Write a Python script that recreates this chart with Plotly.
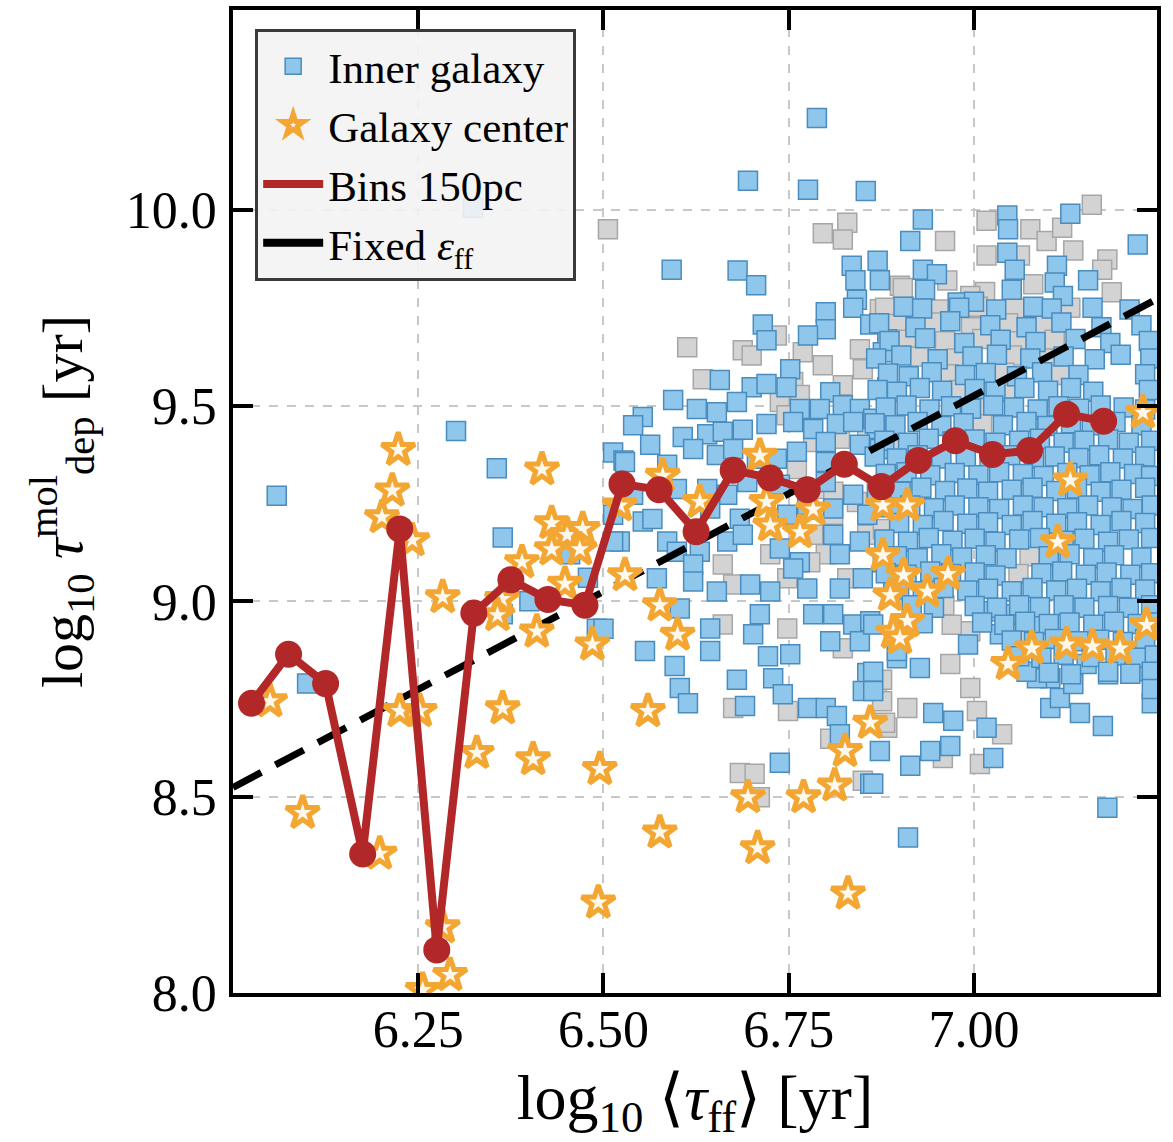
import plotly.graph_objects as go

# ---------------- data ----------------
inner_pts = [
    # sparse / left
    (6.059, 9.27), (6.301, 9.435), (6.324, 10.005), (6.356, 9.34), (6.364, 9.163), (6.10, 8.79),
    (6.455, 9.12), (6.479, 9.06), (6.491, 8.93), (6.364, 8.967), (6.40, 9.0), (6.513, 9.38),
    (6.527, 9.36), (6.522, 9.153),
    # upper
    (6.788, 10.234), (6.695, 10.074), (6.776, 10.051), (6.854, 10.048), (6.592, 9.847), (6.681, 9.845),
    (6.706, 9.807), (6.835, 9.857), (6.87, 9.87), (6.84, 9.82), (6.873, 9.82), (6.842, 9.77),
    (6.931, 9.975), (6.914, 9.92), (6.931, 9.847), (6.95, 9.835), (6.934, 9.796), (6.978, 9.763),
    (7.045, 9.985), (7.046, 9.95), (7.045, 9.89), (7.055, 9.847), (7.051, 9.796), (7.112, 9.857),
    (7.109, 9.814), (7.12, 9.78), (7.13, 9.99), (7.154, 9.82), (7.221, 9.911), (7.0, 9.765),
    # middle band
    (6.80, 9.738), (6.837, 9.75), (6.86, 9.707), (6.80, 9.695), (6.715, 9.707), (6.72, 9.667),
    (6.776, 9.679), (6.883, 9.669), (6.877, 9.636), (6.752, 9.593), (6.657, 9.565), (6.70, 9.547),
    (6.72, 9.555), (6.747, 9.547), (6.806, 9.534), (6.883, 9.547), (6.594, 9.514), (6.626, 9.491),
    (6.653, 9.483), (6.68, 9.509), (6.553, 9.471), (6.54, 9.45), (6.765, 9.491), (6.792, 9.491),
    (6.823, 9.501), (6.846, 9.491), (6.864, 9.466), (6.607, 9.42), (6.64, 9.427), (6.661, 9.433),
    (6.688, 9.438), (6.72, 9.453), (6.756, 9.458), (6.783, 9.44), (6.815, 9.453), (6.837, 9.458),
    (6.869, 9.44), (6.529, 9.356), (6.563, 9.40), (6.586, 9.349), (6.621, 9.389), (6.653, 9.374),
    (6.675, 9.389), (6.707, 9.364), (6.734, 9.364), (6.761, 9.382), (6.80, 9.407), (6.80, 9.356),
    (6.846, 9.40), (6.873, 9.389), (6.54, 9.272), (6.599, 9.287), (6.64, 9.287), (6.667, 9.272),
    (6.694, 9.305), (6.738, 9.298), (6.80, 9.305), (6.837, 9.272), (6.513, 9.221), (6.553, 9.204),
    (6.566, 9.21), (6.644, 9.237), (6.684, 9.211), (6.748, 9.221), (6.775, 9.247), (6.81, 9.237),
    (6.856, 9.221), (6.513, 9.153), (6.586, 9.153), (6.599, 9.127), (6.63, 9.127), (6.667, 9.153),
    (6.688, 9.17), (6.738, 9.135), (6.765, 9.10), (6.81, 9.17), (6.819, 9.12), (6.846, 9.153),
    (6.877, 9.10), (6.572, 9.059), (6.621, 9.094), (6.621, 9.051), (6.653, 9.025), (6.698, 9.043),
    (6.725, 9.025), (6.756, 9.084), (6.775, 9.033), (6.819, 9.033), (6.85, 9.059), (6.891, 9.033),
    # lower
    (6.603, 8.982), (6.644, 8.931), (6.644, 8.873), (6.556, 8.873), (6.596, 8.835), (6.603, 8.779),
    (6.614, 8.74), (6.702, 8.916), (6.711, 8.967), (6.68, 8.80), (6.691, 8.733), (6.722, 8.86),
    (6.729, 8.804), (6.742, 8.763), (6.752, 8.865), (6.776, 8.728), (6.80, 8.728), (6.815, 8.707),
    (6.819, 8.661), (6.783, 8.967), (6.81, 8.967), (6.837, 8.941), (6.806, 8.898), (6.846, 8.898),
    (6.86, 8.949), (6.856, 8.817), (6.85, 8.771), (6.873, 8.618), (6.86, 8.534), (6.738, 8.588),
    (6.896, 8.855), (6.911, 8.397), (6.50, 8.93), (6.864, 8.941), (6.896, 8.873), (6.927, 8.83),
    (6.864, 8.82), (6.864, 8.771), (6.945, 8.715), (6.972, 8.695), (6.941, 8.618), (6.968, 8.631),
    (6.914, 8.58), (6.864, 8.534), (7.017, 8.677), (7.026, 8.60), (6.992, 8.89), (7.022, 8.975),
    (7.049, 8.967), (7.035, 8.916), (7.085, 8.941), (7.103, 8.804), (7.103, 8.728), (7.116, 8.753),
    (7.134, 8.789), (7.143, 8.715), (7.174, 8.682), (7.085, 8.804), (7.071, 8.82), (7.152, 8.84),
    (7.181, 8.814), (7.215, 8.822), (7.18, 8.473), (7.24, 8.74),
    # dense cloud
    (6.905, 9.752), (6.93, 9.748), (6.98, 9.75), (7.03, 9.745), (7.08, 9.752), (7.105, 9.748), (7.16, 9.75), (7.21, 9.745),
    (6.872, 9.71), (6.921, 9.70), (6.968, 9.715), (7.022, 9.705), (7.071, 9.70), (7.118, 9.712), (7.172, 9.70), (7.226, 9.705),
    (6.886, 9.665), (6.934, 9.672), (6.987, 9.66), (7.036, 9.668), (7.083, 9.662), (7.137, 9.67), (7.184, 9.66), (7.236, 9.665),
    (6.868, 9.62), (6.902, 9.628), (6.951, 9.618), (6.998, 9.625), (7.031, 9.63), (7.076, 9.62), (7.121, 9.625), (7.163, 9.618), (7.198, 9.63), (7.238, 9.62),
    (6.884, 9.582), (6.912, 9.575), (6.943, 9.585), (6.988, 9.578), (7.016, 9.583), (7.058, 9.575), (7.092, 9.585), (7.141, 9.578), (7.231, 9.58),
    (6.87, 9.54), (6.896, 9.535), (6.927, 9.545), (6.957, 9.538), (7.001, 9.542), (7.029, 9.535), (7.068, 9.545), (7.10, 9.538), (7.131, 9.545), (7.161, 9.535), (7.236, 9.54),
    (6.881, 9.495), (6.909, 9.50), (6.94, 9.49), (6.969, 9.498), (6.996, 9.492), (7.026, 9.50), (7.054, 9.495), (7.086, 9.49), (7.114, 9.498), (7.142, 9.492), (7.171, 9.50), (7.202, 9.495), (7.231, 9.49),
    (6.866, 9.455), (6.894, 9.45), (6.924, 9.458), (6.956, 9.448), (6.986, 9.455), (7.039, 9.45), (7.071, 9.458), (7.099, 9.448), (7.131, 9.455), (7.159, 9.45), (7.191, 9.458), (7.226, 9.45),
    (6.879, 9.41), (6.911, 9.405), (6.939, 9.415), (6.971, 9.408), (7.001, 9.413), (7.029, 9.405), (7.061, 9.41), (7.089, 9.415), (7.121, 9.405), (7.149, 9.41), (7.181, 9.413), (7.209, 9.405), (7.239, 9.41),
    (6.866, 9.37), (6.896, 9.365), (6.924, 9.373), (6.956, 9.365), (6.989, 9.37), (7.021, 9.366), (7.049, 9.373), (7.081, 9.365), (7.109, 9.37), (7.141, 9.366), (7.169, 9.373), (7.201, 9.365), (7.231, 9.37),
    (6.881, 9.325), (6.909, 9.33), (6.941, 9.322), (6.974, 9.328), (7.006, 9.322), (7.034, 9.33), (7.066, 9.325), (7.094, 9.32), (7.126, 9.328), (7.156, 9.322), (7.184, 9.33), (7.216, 9.325), (7.239, 9.32),
    (6.869, 9.285), (6.901, 9.28), (6.929, 9.29), (6.961, 9.282), (6.991, 9.288), (7.019, 9.28), (7.051, 9.285), (7.079, 9.29), (7.111, 9.282), (7.139, 9.288), (7.171, 9.28), (7.199, 9.285), (7.231, 9.29),
    (6.886, 9.24), (6.914, 9.245), (6.946, 9.238), (6.974, 9.245), (7.006, 9.24), (7.034, 9.236), (7.066, 9.245), (7.094, 9.24), (7.126, 9.238), (7.154, 9.245), (7.186, 9.24), (7.214, 9.236), (7.24, 9.245),
    (6.899, 9.20), (6.931, 9.195), (6.959, 9.205), (6.991, 9.198), (7.019, 9.202), (7.051, 9.195), (7.079, 9.205), (7.111, 9.198), (7.139, 9.202), (7.171, 9.195), (7.199, 9.205), (7.231, 9.20),
    (6.879, 9.158), (6.911, 9.152), (6.939, 9.162), (6.971, 9.155), (7.001, 9.16), (7.029, 9.152), (7.061, 9.158), (7.089, 9.162), (7.121, 9.155), (7.149, 9.16), (7.181, 9.152), (7.209, 9.158), (7.239, 9.162),
    (6.896, 9.115), (6.924, 9.11), (6.956, 9.12), (6.984, 9.112), (7.016, 9.118), (7.044, 9.11), (7.101, 9.115), (7.129, 9.12), (7.161, 9.11), (7.189, 9.118), (7.226, 9.112),
    (6.881, 9.072), (6.909, 9.068), (6.941, 9.076), (6.969, 9.07), (7.001, 9.074), (7.029, 9.066), (7.091, 9.072), (7.119, 9.076), (7.151, 9.068), (7.179, 9.074), (7.211, 9.068), (7.239, 9.072),
    (6.899, 9.03), (6.931, 9.026), (6.959, 9.034), (6.991, 9.028), (7.019, 9.032), (7.051, 9.026), (7.079, 9.034), (7.111, 9.028), (7.139, 9.032), (7.171, 9.026), (7.199, 9.034), (7.231, 9.03),
    (6.916, 8.99), (6.946, 8.984), (7.001, 8.988), (7.031, 8.984), (7.061, 8.99), (7.089, 8.985), (7.121, 8.99), (7.149, 8.984), (7.181, 8.988), (7.209, 8.984), (7.239, 8.99),
    (6.931, 8.944), (7.011, 8.946), (7.041, 8.94), (7.069, 8.948), (7.101, 8.942), (7.129, 8.946), (7.161, 8.94), (7.189, 8.948), (7.221, 8.942), (7.244, 8.946),
    (7.051, 8.90), (7.081, 8.896), (7.109, 8.904), (7.141, 8.898), (7.169, 8.902), (7.201, 8.896), (7.231, 8.904),
    (7.061, 8.86), (7.091, 8.856), (7.121, 8.864), (7.159, 8.858), (7.191, 8.862), (7.221, 8.856), (7.244, 8.862),
    (7.101, 8.818), (7.131, 8.814), (7.181, 8.82), (7.211, 8.815), (7.24, 8.82), (7.24, 8.776),
]

other_pts = [
    (6.506, 9.95), (6.796, 9.94), (6.829, 9.967), (6.823, 9.924), (6.90, 9.806), (6.961, 9.92),
    (6.904, 9.80), (6.964, 9.819), (7.017, 9.972), (7.017, 9.883), (7.076, 9.95), (7.098, 9.92),
    (7.119, 9.954), (7.159, 10.013), (7.134, 9.896), (7.18, 9.873), (7.173, 9.847), (7.186, 9.789),
    (7.08, 9.81), (7.062, 9.883), (7.015, 9.79), (6.995, 9.78),
    (6.613, 9.649), (6.688, 9.641), (6.70, 9.628), (6.734, 9.679), (6.769, 9.636), (6.796, 9.603),
    (6.846, 9.644), (6.873, 9.746), (6.634, 9.567), (6.756, 9.56), (6.765, 9.527), (6.823, 9.552),
    (6.85, 9.593), (6.738, 9.509), (6.747, 9.475), (6.783, 9.407), (6.819, 9.415), (6.856, 9.44),
    (6.886, 9.389), (6.761, 9.338), (6.792, 9.287), (6.81, 9.28), (6.842, 9.254), (6.81, 9.221),
    (6.783, 9.17), (6.80, 9.12), (6.856, 9.17), (6.877, 9.185), (6.725, 9.12), (6.661, 9.094),
    (6.748, 9.059), (6.779, 9.10), (6.675, 9.043), (6.829, 9.059),
    (6.661, 8.941), (6.748, 8.931), (6.823, 8.88), (6.869, 8.779), (6.876, 8.745), (6.675, 8.728),
    (6.749, 8.72), (6.806, 8.649), (6.883, 8.677), (6.684, 8.562), (6.704, 8.56), (6.711, 8.50),
    (6.85, 8.542), (6.968, 8.84), (6.995, 8.779), (7.004, 8.72), (6.91, 8.728), (6.876, 8.80),
    (6.88, 8.69), (6.958, 8.60), (7.008, 8.585), (7.038, 8.661), (6.995, 8.924), (7.058, 8.916),
    (6.88, 9.75), (6.955, 9.745), (7.005, 9.752), (7.055, 9.748), (7.13, 9.75),
    (6.896, 9.708), (6.944, 9.712), (6.996, 9.70), (7.046, 9.71), (7.094, 9.705),
    (6.911, 9.668), (6.961, 9.664), (7.011, 9.67), (7.061, 9.664), (7.109, 9.668),
    (6.926, 9.625), (6.976, 9.62), (7.051, 9.628), (7.101, 9.62),
    (6.966, 9.58), (7.041, 9.584), (7.116, 9.578), (6.981, 9.54), (7.051, 9.542),
    (7.011, 9.495), (7.011, 9.452), (7.075, 9.115), (7.06, 9.07), (6.96, 8.99), (6.97, 8.94),
]

center_pts = [
    (6.05, 8.745), (6.094, 8.46), (6.198, 8.356), (6.201, 9.215), (6.215, 9.283), (6.223, 9.387),
    (6.242, 9.156), (6.225, 8.72), (6.252, 8.72), (6.256, 8.008), (6.283, 8.168), (6.293, 8.046),
    (6.283, 9.011), (6.329, 8.613), (6.364, 8.727), (6.363, 9.006), (6.357, 8.965), (6.405, 8.597),
    (6.417, 9.337), (6.39, 9.10), (6.43, 9.20), (6.451, 9.17), (6.472, 9.185), (6.43, 9.133),
    (6.468, 9.133), (6.448, 9.045), (6.41, 8.923), (6.485, 8.89), (6.495, 8.572), (6.493, 8.231),
    (6.522, 9.245), (6.529, 9.067), (6.576, 8.99), (6.60, 8.915), (6.56, 8.72), (6.576, 8.41),
    (6.58, 9.321), (6.63, 9.254), (6.711, 9.372), (6.72, 9.254), (6.725, 9.194), (6.765, 9.177),
    (6.783, 9.235), (6.695, 8.50), (6.708, 8.37), (6.77, 8.50), (6.812, 8.53), (6.826, 8.618),
    (6.86, 8.69), (6.83, 8.254), (6.891, 8.92), (6.91, 8.95), (6.90, 8.906), (6.877, 9.245),
    (6.91, 9.245), (6.877, 9.118), (6.905, 9.067), (6.965, 9.07), (6.937, 9.025), (6.887, 9.016),
    (7.046, 8.84), (7.078, 8.88), (7.125, 8.89), (7.16, 8.885), (7.197, 8.88), (7.233, 8.94),
    (7.13, 9.309), (7.113, 9.151), (7.228, 9.482),
]

bins_x = [6.025, 6.075, 6.125, 6.175, 6.225, 6.275, 6.325, 6.375, 6.425, 6.475, 6.525, 6.575,
          6.625, 6.675, 6.725, 6.775, 6.825, 6.875, 6.925, 6.975, 7.025, 7.075, 7.125, 7.175]
bins_y = [8.74, 8.865, 8.79, 8.355, 9.185, 8.11, 8.97, 9.055, 9.005, 8.99, 9.30, 9.285,
          9.178, 9.335, 9.315, 9.285, 9.35, 9.293, 9.36, 9.41, 9.375, 9.385, 9.478, 9.46]

fixed_x = [6.0, 7.25]
fixed_offset = 2.525

x_ticks = [6.25, 6.50, 6.75, 7.00]
y_ticks = [8.0, 8.5, 9.0, 9.5, 10.0]

# ---------------- figure ----------------
FONT = "Liberation Serif"
BLUE_FILL, BLUE_EDGE = "#8EC7EB", "#4A8CBE"
GRAY_FILL, GRAY_EDGE = "#D3D3D3", "#A6A6A6"
ORANGE = "#F3A632"
RED = "#B22828"

fig = go.Figure()

fig.add_trace(go.Scatter(
    x=[p[0] for p in other_pts], y=[p[1] for p in other_pts], mode="markers",
    marker=dict(symbol="square", size=19, color=GRAY_FILL, line=dict(color=GRAY_EDGE, width=1.5)),
    showlegend=False, hoverinfo="skip"))

fig.add_trace(go.Scatter(
    x=[p[0] for p in inner_pts], y=[p[1] for p in inner_pts], mode="markers", name="Inner galaxy",
    marker=dict(symbol="square", size=19, color=BLUE_FILL, line=dict(color=BLUE_EDGE, width=1.5))))

fig.add_trace(go.Scatter(
    x=fixed_x, y=[v + fixed_offset for v in fixed_x], mode="lines", name="Fixed <i>ε</i><sub>ff</sub>",
    line=dict(color="black", width=7, dash="32px,16px"), showlegend=False))

fig.add_trace(go.Scatter(
    x=[p[0] for p in center_pts], y=[p[1] for p in center_pts], mode="markers", name="Galaxy center",
    marker=dict(symbol="star", size=25, color="#FFF8EC", line=dict(color=ORANGE, width=5))))

fig.add_trace(go.Scatter(
    x=bins_x, y=bins_y, mode="lines+markers", name="Bins 150pc",
    line=dict(color=RED, width=8), marker=dict(symbol="circle", size=27, color=RED),
    showlegend=False))

# legend-only entries
fig.add_trace(go.Scatter(x=[None], y=[None], mode="lines", name="Bins 150pc",
                         line=dict(color=RED, width=8)))
fig.add_trace(go.Scatter(x=[None], y=[None], mode="lines", name="Fixed <i>ε</i><sub>ff</sub>",
                         line=dict(color="black", width=8)))

axis_common = dict(
    showline=True, linewidth=3.5, linecolor="black", mirror="ticks",
    ticks="inside", ticklen=20, tickwidth=3.5, tickcolor="black",
    showgrid=True, gridcolor="#C8C8C8", gridwidth=1.5, griddash="dash",
    zeroline=False, tickfont=dict(family=FONT, size=52, color="black"),
)

fig.update_xaxes(range=[6.0, 7.247], tickvals=x_ticks, ticktext=[f"{v:.2f}" for v in x_ticks],
                 title=dict(text="log<sub>10</sub> ⟨<i>τ</i><sub>ff</sub>⟩ [yr]",
                            font=dict(family=FONT, size=64, color="black"), standoff=30),
                 ticklabelstandoff=-12, **axis_common)
fig.update_yaxes(range=[8.0, 10.51], tickvals=y_ticks, ticktext=[f"{v:.1f}" for v in y_ticks],
                 title=dict(text="log<sub>10</sub> <i>τ</i><sup>mol</sup><sub>dep</sub> [yr]",
                            font=dict(family=FONT, size=58, color="black"), standoff=26),
                 ticklabelstandoff=2, **axis_common)

fig.update_layout(
    width=1173, height=1142,
    margin=dict(l=233, r=16, t=6, b=149),
    plot_bgcolor="white", paper_bgcolor="white",
    legend=dict(x=0.024, y=0.981, xanchor="left", yanchor="top",
                bgcolor="rgba(243,243,243,0.9)", bordercolor="#3A3A3A", borderwidth=3,
                font=dict(family=FONT, size=43, color="black"), itemwidth=60),
    font=dict(family=FONT),
)

fig.write_html("out.html")
